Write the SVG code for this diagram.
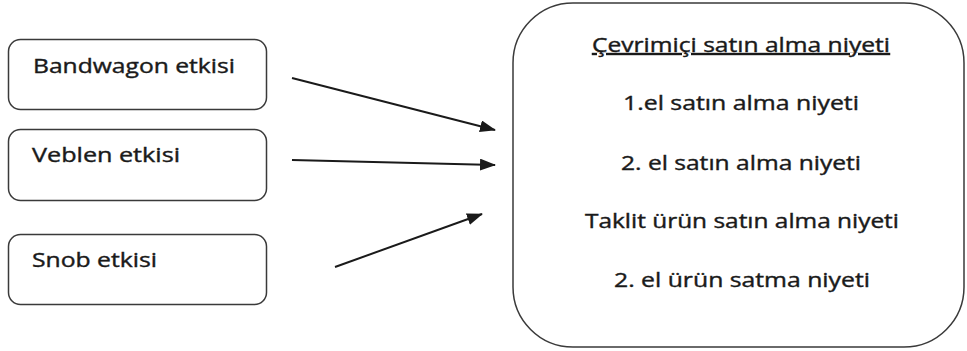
<svg xmlns="http://www.w3.org/2000/svg" width="967" height="351" viewBox="0 0 967 351">
<style>
.box{fill:#fff;stroke:#3a3a3a;stroke-width:1.5}
.t{font-family:"Open Sans","Noto Sans",sans-serif;font-size:20px;fill:#1a1a1a;stroke:#1a1a1a;stroke-width:0.4}
.c{text-anchor:middle}
.ar{stroke:#1a1a1a;stroke-width:2;fill:none;marker-end:url(#ah)}
</style>
<defs>
<marker id="ah" markerWidth="16" markerHeight="12" refX="15" refY="6" orient="auto" markerUnits="userSpaceOnUse">
<path d="M0,0 L16,6 L0,12 Z" fill="#1a1a1a"/>
</marker>
</defs>
<rect width="967" height="351" fill="#fff"/>
<g id="bandwagon">
<rect class="box" x="8.5" y="39.5" width="258" height="70" rx="12"/>
<text class="t" x="33" y="73" textLength="202" lengthAdjust="spacingAndGlyphs">Bandwagon etkisi</text>
</g>
<g id="veblen">
<rect class="box" x="8.5" y="129.5" width="258" height="71" rx="12"/>
<text class="t" x="32" y="162" textLength="148" lengthAdjust="spacingAndGlyphs">Veblen etkisi</text>
</g>
<g id="snob">
<rect class="box" x="8.5" y="234.5" width="258" height="70" rx="12"/>
<text class="t" x="32" y="267" textLength="125" lengthAdjust="spacingAndGlyphs">Snob etkisi</text>
</g>
<g id="niyet">
<rect class="box" x="513" y="3" width="451" height="344" rx="60"/>
<text class="t c" x="741" y="52" textLength="298" lengthAdjust="spacingAndGlyphs" text-decoration="underline">Çevrimiçi satın alma niyeti</text>
<text class="t c" x="741" y="110" textLength="236" lengthAdjust="spacingAndGlyphs">1.el satın alma niyeti</text>
<text class="t c" x="741" y="170" textLength="240" lengthAdjust="spacingAndGlyphs">2. el satın alma niyeti</text>
<text class="t c" x="742" y="228" textLength="314" lengthAdjust="spacingAndGlyphs">Taklit ürün satın alma niyeti</text>
<text class="t c" x="742" y="287" textLength="256" lengthAdjust="spacingAndGlyphs">2. el ürün satma niyeti</text>
</g>
<g id="connectors">
<line class="ar" x1="292" y1="78" x2="495" y2="130"/>
<line class="ar" x1="292" y1="160" x2="495" y2="165"/>
<line class="ar" x1="335" y1="267" x2="482" y2="214"/>
</g>
</svg>
